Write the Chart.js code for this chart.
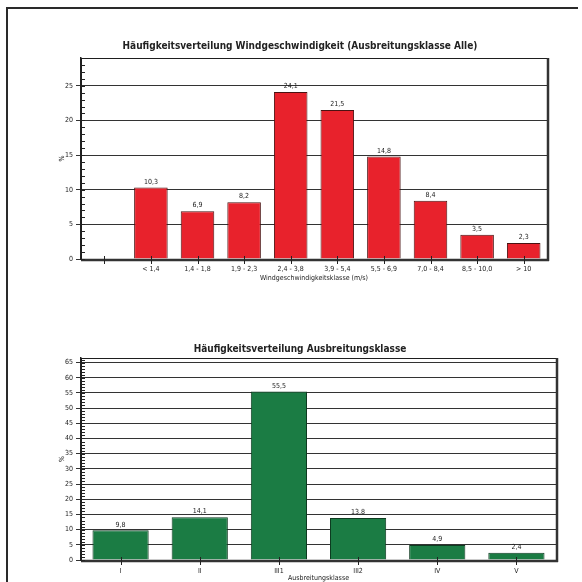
<!DOCTYPE html>
<html><head><meta charset="utf-8">
<script src="https://cdn.jsdelivr.net/npm/chart.js@4/dist/chart.umd.min.js"></script>
<style>
html,body{margin:0;padding:0;background:#fff;width:582px;height:582px;overflow:hidden;position:relative}
#frame{position:absolute;left:6px;top:7px;width:570px;height:600px;border-left:2px solid #2a2a2a;border-top:2px solid #2a2a2a;}
#c1wrap{position:absolute;left:0;top:30px;width:582px;height:260px}
#c2wrap{position:absolute;left:0;top:330px;width:582px;height:252px}
</style></head><body>
<div id="frame"></div>
<div id="c1wrap"><canvas id="c1"></canvas></div>
<div id="c2wrap"><canvas id="c2"></canvas></div>
<script>
// ---- data ----
const windTitle = "Häufigkeitsverteilung Windgeschwindigkeit (Ausbreitungsklasse Alle)";
const windAxisTitle = "Windgeschwindigkeitsklasse (m/s)";
const windClasses = ["", "< 1,4", "1,4 - 1,8", "1,9 - 2,3", "2,4 - 3,8", "3,9 - 5,4", "5,5 - 6,9", "7,0 - 8,4", "8,5 - 10,0", "> 10"];
const windValues = [null, 10.3, 6.9, 8.2, 24.1, 21.5, 14.8, 8.4, 3.5, 2.3];
const windTicks = [0, 5, 10, 15, 20, 25];
const windMax = 29;

const stabTitle = "Häufigkeitsverteilung Ausbreitungsklasse";
const stabAxisTitle = "Ausbreitungsklasse";
const stabClasses = ["I", "II", "III1", "III2", "IV", "V"];
const stabValues = [9.8, 14.1, 55.5, 13.8, 4.9, 2.4];
const stabTicks = [0, 5, 10, 15, 20, 25, 30, 35, 40, 45, 50, 55, 60, 65];
const stabMax = 66.5;

// ---- style ----
const FONT = "'DejaVu Sans Condensed','Liberation Sans',sans-serif";
Chart.defaults.font.family = FONT;
Chart.defaults.color = '#222';

const valueLabels = {
  id:'valueLabels',
  afterDatasetsDraw(c){
    const ctx=c.ctx, meta=c.getDatasetMeta(0), data=c.data.datasets[0].data;
    ctx.save();
    ctx.font = '7px ' + FONT; ctx.fillStyle='#222'; ctx.textAlign='center'; ctx.textBaseline='bottom';
    meta.data.forEach((el,i)=>{ const v=data[i]; if(v==null) return; ctx.fillText(v.toFixed(1).replace('.',','), el.x, el.y-2); });
    ctx.restore();
  }
};

const titlePlugin = {
  id:'ctitle',
  afterDraw(c, args, opts){
    const ctx=c.ctx;
    ctx.save();
    ctx.font = 'bold 10px ' + FONT; ctx.fillStyle='#222'; ctx.textAlign='center'; ctx.textBaseline='middle';
    ctx.fillText(opts.text, c.width/2 + 9, opts.y);
    ctx.restore();
  }
};

const framePlugin = {
  id:'framePlot',
  afterDatasetsDraw(c){
    const {ctx, chartArea:a} = c; const x=c.scales.x, y=c.scales.y;
    ctx.save();
    ctx.strokeStyle='#1e1e1e'; ctx.lineWidth=1;
    ctx.strokeRect(a.left+0.5, a.top+0.5, a.right-a.left, a.bottom-a.top);
    ctx.lineWidth=2.5; ctx.strokeStyle='#333';
    ctx.beginPath(); ctx.moveTo(a.right+1, a.top); ctx.lineTo(a.right+1, a.bottom+2); ctx.stroke();
    ctx.beginPath(); ctx.moveTo(a.left, a.bottom+1); ctx.lineTo(a.right+2, a.bottom+1); ctx.stroke();
    ctx.lineWidth=1; ctx.strokeStyle='#222';
    for(let v=Math.ceil(y.min); v<=y.max; v++){
      const py=Math.round(y.getPixelForValue(v))+0.5;
      ctx.beginPath(); ctx.moveTo(a.left, py); ctx.lineTo(a.left+4, py); ctx.stroke();
    }
    for(let i=0;i<c.data.labels.length;i++){
      const px=Math.round(x.getPixelForTick(i))+0.5;
      ctx.beginPath(); ctx.moveTo(px, a.bottom-3); ctx.lineTo(px, a.bottom+5); ctx.stroke();
    }
    ctx.restore();
  }
};

function makeChart(id, labels, values, ticks, max, title, xTitle, cfg){
  return new Chart(document.getElementById(id), {
    type:'bar',
    data:{ labels, datasets:[{ data:values, backgroundColor:cfg.fill, borderColor:cfg.edge, borderWidth:1,
      barPercentage:cfg.barPct, categoryPercentage:1 }] },
    options:{
      responsive:true, maintainAspectRatio:false, animation:false,
      layout:{ padding:{ left:0, right:cfg.padRight, top:28, bottom:0 } },
      plugins:{ legend:{display:false}, tooltip:{enabled:false}, title:{display:false},
                ctitle:{ text:title, y:cfg.titleY } },
      scales:{
        x:{ afterFit:s=>{ s.height=cfg.xHeight; }, grid:{display:false, drawTicks:false, tickLength:0}, border:{display:false},
            ticks:{ autoSkip:false, maxRotation:0, minRotation:0, padding:cfg.xPad, font:{size:7}, color:'#222' },
            title:{ display:true, text:xTitle, color:'#222', font:{size:7}, padding:{top:0, bottom:cfg.xTitleBottom} } },
        y:{ min:0, max:max,
            afterBuildTicks:s=>{ s.ticks = ticks.map(v=>({value:v})); },
            afterFit:s=>{ s.width=81; },
            grid:{ color:'#333', lineWidth:1, tickLength:5, drawTicks:true },
            border:{ display:true, color:'#222', width:1.5 },
            ticks:{ padding:3, font:{size:7}, color:'#222', callback:v=>String(v) },
            title:{ display:true, text:'%', color:'#222', font:{size:7}, padding:{top:58, bottom:0} } }
      }
    },
    plugins:[framePlugin, valueLabels, titlePlugin]
  });
}

makeChart('c1', windClasses, windValues, windTicks, windMax, windTitle, windAxisTitle,
  { fill:'#e8222c', edge:'#4a1212', barPct:0.72, padRight:35, titleY:16, xHeight:31, xPad:6, xTitleBottom:8 });
makeChart('c2', stabClasses, stabValues, stabTicks, stabMax, stabTitle, stabAxisTitle,
  { fill:'#1b7c44', edge:'#0e3a20', barPct:0.71, padRight:26, titleY:19, xHeight:22, xPad:7, xTitleBottom:0 });
</script>
</body></html>
